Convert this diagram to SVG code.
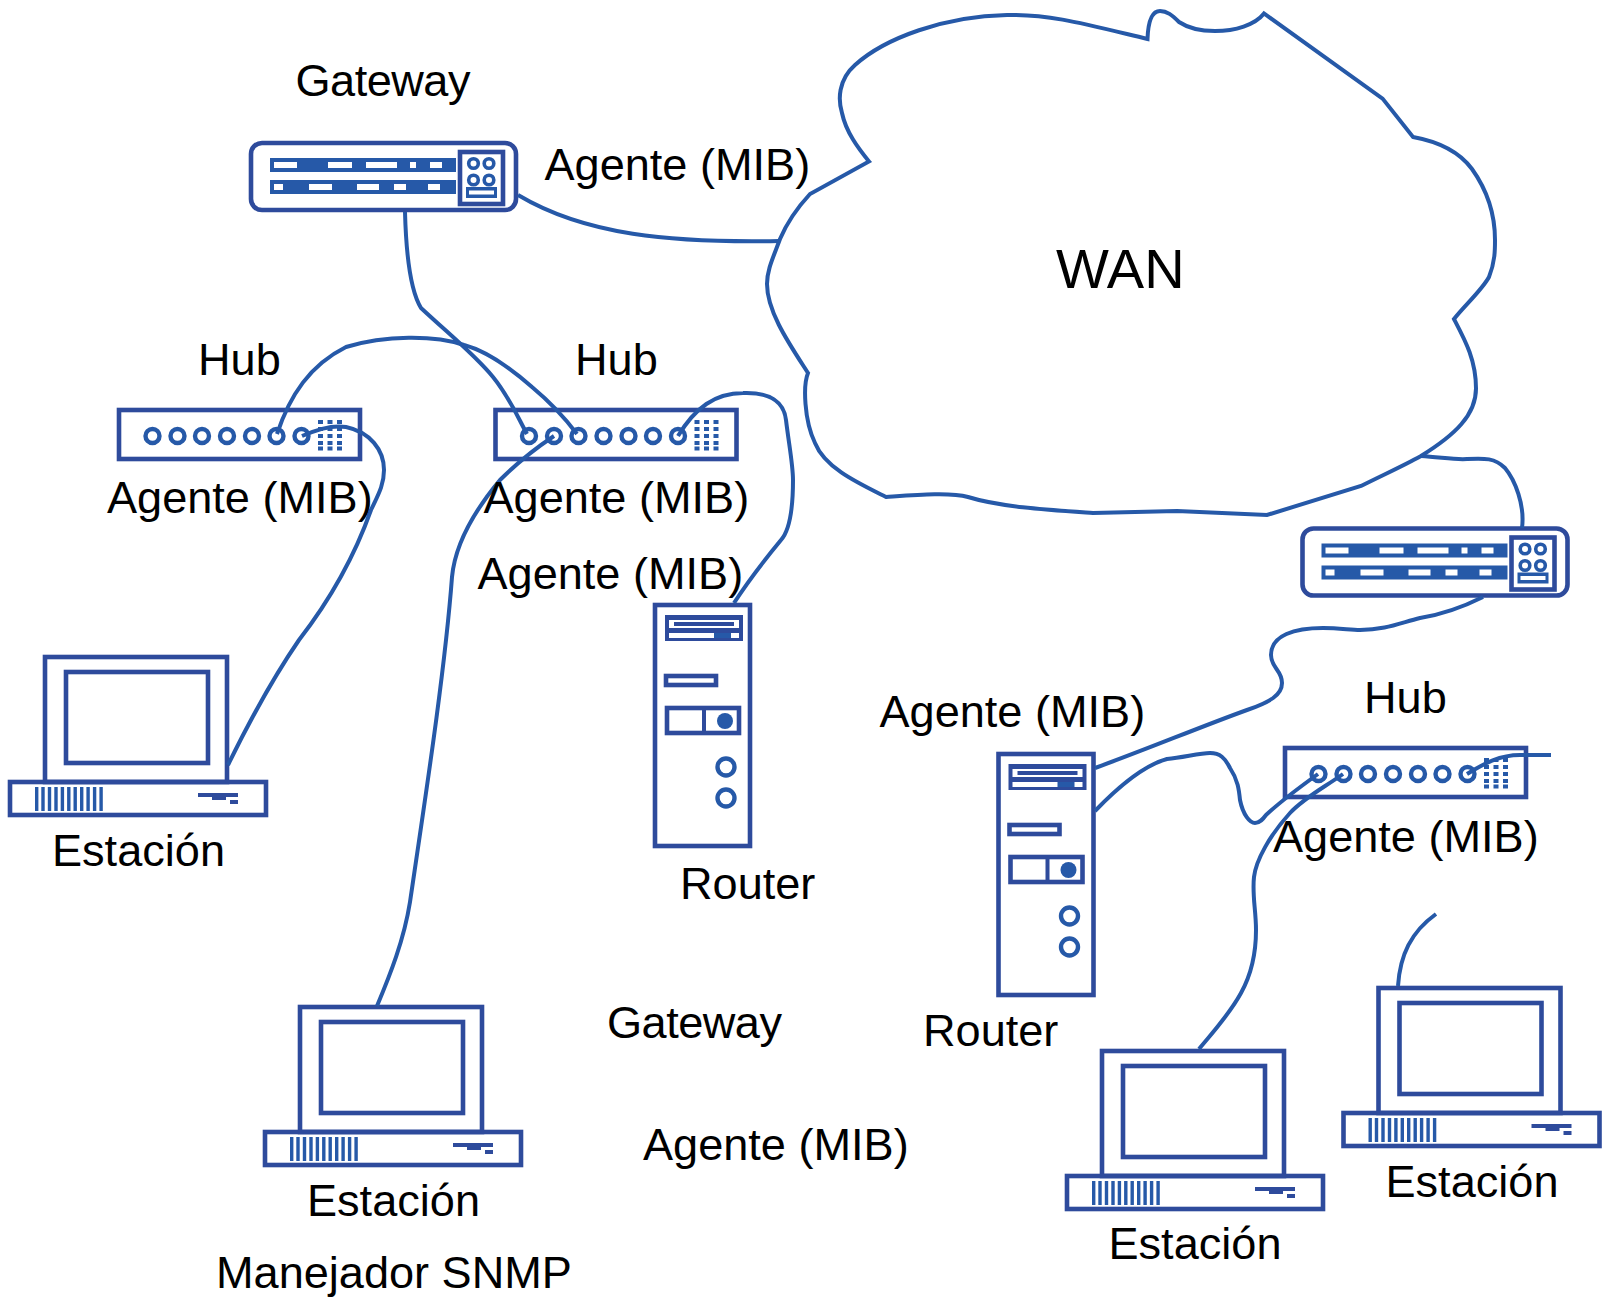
<svg xmlns="http://www.w3.org/2000/svg" width="1607" height="1297" viewBox="0 0 1607 1297">
<style>
text{font-family:"Liberation Sans",Arial,sans-serif;font-size:45.100px;fill:#000}
.o{fill:none;stroke:#2e4b9c;stroke-width:4.600}
.w{fill:none;stroke:#2659a8;stroke-width:4;stroke-linejoin:miter}
.f{fill:#2659a8}
.n{fill:#2e4b9c}
.h{fill:#fff}
.c{fill:none;stroke:#2659a8;stroke-width:4.400}
.k{fill:none;stroke:#2659a8;stroke-width:3.600}
</style>
<defs>
<g id="gw">
<rect class="o" x="251" y="143" width="265" height="67" rx="11"/>
<rect class="f" x="270" y="158" width="186" height="14"/>
<rect class="f" x="270" y="180" width="186" height="14"/>
<rect class="h" x="274" y="162" width="23" height="6"/><rect class="h" x="328" y="162" width="24" height="6"/><rect class="h" x="366" y="162" width="31" height="6"/><rect class="h" x="410" y="162" width="6" height="6"/><rect class="h" x="430" y="162" width="12" height="6"/>
<rect class="h" x="274" y="184" width="9" height="6"/><rect class="h" x="309" y="184" width="23" height="6"/><rect class="h" x="357" y="184" width="22" height="6"/><rect class="h" x="394" y="184" width="12" height="6"/><rect class="h" x="428" y="184" width="12" height="6"/>
<rect class="o" x="460" y="152" width="43" height="52"/>
<circle class="k" cx="473.500" cy="163.500" r="4.800"/><circle class="k" cx="489" cy="163.500" r="4.800"/><circle class="k" cx="473.500" cy="180" r="4.800"/><circle class="k" cx="489" cy="180" r="4.800"/>
<rect class="f" x="466" y="187" width="31" height="11"/><rect class="h" x="469" y="190.500" width="25" height="4"/>
</g>
<g id="hub">
<rect class="o" x="119" y="409" width="241" height="49"/>
<circle class="c" cx="152.500" cy="435" r="7"/><circle class="c" cx="177.500" cy="435" r="7"/><circle class="c" cx="202" cy="435" r="7"/><circle class="c" cx="227" cy="435" r="7"/><circle class="c" cx="252" cy="435" r="7"/><circle class="c" cx="276.500" cy="435" r="7"/><circle class="c" cx="301.500" cy="435" r="7"/>
<path class="f" d="M318,419h5v4h-5zM327.500,419h5v4h-5zM337,419h5v4h-5zM318,426h5v4h-5zM327.500,426h5v4h-5zM337,426h5v4h-5zM318,433h5v4h-5zM327.500,433h5v4h-5zM337,433h5v4h-5zM318,440h5v4h-5zM327.500,440h5v4h-5zM337,440h5v4h-5zM318,445.500h5v4h-5zM327.500,445.500h5v4h-5zM337,445.500h5v4h-5z"/>
</g>
<g id="pc">
<rect class="o" x="45" y="656" width="182" height="125"/>
<rect class="o" x="66" y="671" width="142" height="91"/>
<rect class="o" x="10" y="781" width="256" height="33"/>
<path class="f" d="M35,786h3.400v24h-3.400zM41.300,786h3.400v24h-3.400zM47.800,786h3.400v24h-3.400zM54.300,786h3.400v24h-3.400zM60.700,786h3.400v24h-3.400zM67.100,786h3.400v24h-3.400zM73.500,786h3.400v24h-3.400zM80,786h3.400v24h-3.400zM86.400,786h3.400v24h-3.400zM92.900,786h3.400v24h-3.400zM99.400,786h3.400v24h-3.400z"/>
<path class="n" d="M198,792h40v4h-12v3h-14v-3h-14zM230,799h8v4h-8z"/>
</g>
<g id="rt">
<rect class="o" x="655" y="604" width="95" height="241"/>
<rect class="n" x="665" y="614" width="78" height="26"/>
<rect class="h" x="669" y="619" width="70" height="8"/><rect class="n" x="674" y="621" width="60" height="4"/>
<rect class="h" x="669" y="632" width="70" height="5"/><rect class="f" x="714" y="632" width="17" height="5"/>
<rect class="o" x="666" y="675" width="50" height="9"/>
<rect class="o" x="667" y="707" width="72" height="25"/>
<rect class="n" x="702" y="707" width="4" height="25"/>
<circle class="f" cx="725" cy="720" r="8"/>
<circle class="c" cx="726" cy="766" r="8.500"/><circle class="c" cx="726" cy="797" r="8.500"/>
</g>
</defs>
<g id="wan">
<path class="w" d="M1147.500,39C1085,24 1050,14 1007,15C945,16 885,38 855,65C838,80 838,100 842,113C846,132 858,148 869,161.500L810,194C797,208 786,225 780,239C773,258 767,270 767,284C767,312 790,345 808,373C803,385 804,420 815,443C825,468 858,483 886,497C915,495 950,492 968,497C1000,507 1050,510 1093,513L1177,511L1267,515L1361,486C1385,474 1403,466 1421,456C1455,435 1476,415 1476,388.500C1476,360 1465,340 1454,319C1465,305 1482,290 1489,277C1495,262 1495,250 1495,240C1495,215 1487,190 1472,169C1458,150 1435,141 1413,137L1382.600,98.600L1264,13.500C1255,25 1235,31 1215,31C1200,31 1188,28 1179,22C1172,15 1167,11 1160,11C1151,11 1148,25 1147.500,39Z"/>
</g>
<g id="gateway1"><use href="#gw"/></g>
<g id="gateway2"><use href="#gw" x="1051.500" y="385.500"/></g>
<g id="hub1"><use href="#hub" y="1"/></g>
<g id="hub2"><use href="#hub" x="376.500" y="1"/></g>
<g id="hub3"><use href="#hub" x="1166" y="339"/></g>
<g id="router1"><use href="#rt" y="1"/></g>
<g id="router2"><use href="#rt" x="343.500" y="150"/></g>
<g id="station1"><use href="#pc" y="1"/></g>
<g id="station2"><use href="#pc" x="255" y="351"/></g>
<g id="station3"><use href="#pc" x="1057" y="395"/></g>
<g id="station4"><use href="#pc" x="1333.500" y="332"/></g>
<g id="connectors">
<path class="w" d="M518,195C585,235 670,243 779,241"/>
<path class="w" d="M405,212C406,250 410,290 421,308C450,335 475,355 493,377C510,398 518,418 527,434"/>
<path class="w" d="M277,434C290,395 310,365 346,347C385,335 435,335 464,345C490,352 515,372 532,387C550,402 565,418 577,434"/>
<path class="w" d="M302,436C320,428 335,425 346,427C370,432 384,450 384,470C384,485 378,495 371,510C355,555 330,600 299,640C275,675 250,720 228,765"/>
<path class="w" d="M554,436C530,452 515,465 500,480C475,510 455,545 452,577C445,670 425,800 410,902C404,940 390,975 377,1006"/>
<path class="w" d="M678,436C695,408 715,393 743,393C770,392 784,402 786,420C789,445 793,465 793,480C793,510 790,530 781,540C762,563 747,583 734,603"/>
<path class="w" d="M1421,456C1440,457 1455,460 1467,459C1485,458 1495,458 1505,468C1515,480 1525,505 1522,528"/>
<path class="w" d="M1095,768C1145,750 1200,727 1247,710C1270,702 1282,695 1282,683C1282,670 1271,668 1271,655C1271,635 1295,628 1323,628C1340,628 1350,630 1360,630C1385,630 1400,623 1420,618C1445,614 1465,606 1483,597"/>
<path class="w" d="M1095,811C1120,785 1145,765 1167,759C1185,757 1200,753 1210,753C1220,753 1225,758 1230,768C1238,780 1239,790 1240,800C1243,815 1250,823 1255,823C1260,823 1263,819 1266,815C1280,802 1300,787 1318,774"/>
<path class="w" d="M1343,774C1325,787 1305,797 1290,813C1270,835 1256,860 1254,877C1252,895 1256,910 1256,930C1256,955 1251,975 1241,993C1229,1015 1213,1032 1199,1049"/>
<path class="w" d="M1467,774C1485,763 1500,755 1520,755H1551"/>
<path class="w" d="M1436,914C1411,932 1400,955 1398,986"/>
</g>
<g id="labels">
<text x="295.500" y="96" style="letter-spacing:-0.500px">Gateway</text>
<text x="544.500" y="180">Agente (MIB)</text>
<text x="1056" y="288" style="font-size:56px">WAN</text>
<text x="198" y="375">Hub</text>
<text x="575" y="375">Hub</text>
<text x="107" y="513">Agente (MIB)</text>
<text x="483.500" y="513">Agente (MIB)</text>
<text x="477.500" y="589">Agente (MIB)</text>
<text x="52" y="866">Estación</text>
<text x="680" y="899">Router</text>
<text x="607" y="1038" style="letter-spacing:-0.500px">Gateway</text>
<text x="643" y="1160">Agente (MIB)</text>
<text x="307" y="1216">Estación</text>
<text x="216" y="1287.500">Manejador SNMP</text>
<text x="923" y="1046">Router</text>
<text x="1108.500" y="1259">Estación</text>
<text x="1385.500" y="1197">Estación</text>
<text x="879.500" y="727">Agente (MIB)</text>
<text x="1364" y="713">Hub</text>
<text x="1273" y="851.500">Agente (MIB)</text>
</g>
</svg>
